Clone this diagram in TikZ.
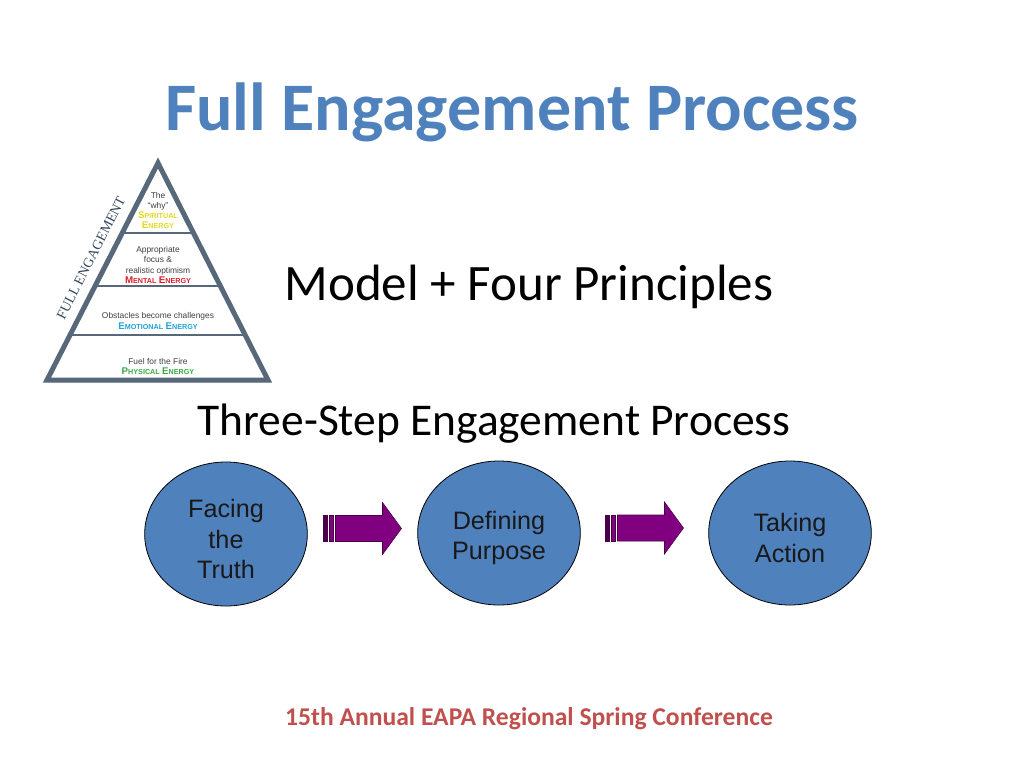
\documentclass[tikz,border=0pt]{standalone}
\usepackage{fontspec}
\setmainfont{Liberation Sans}
\newfontfamily\calibri{Carlito}
\newfontfamily\timesfont{Liberation Serif}
\usetikzlibrary{shapes.geometric, calc, shadows}

\definecolor{titleblue}{HTML}{4F81BD}
\definecolor{stepblue}{HTML}{4F81BD}
\definecolor{slate}{HTML}{56687A}
\definecolor{slatetext}{HTML}{34465C}
\definecolor{footred}{HTML}{C0504D}
\definecolor{arrowpurple}{HTML}{800080}
\definecolor{arrowedge}{HTML}{4A0048}
\definecolor{tiergray}{HTML}{404040}
\definecolor{spiritcol}{HTML}{E6D81E}
\definecolor{mentalcol}{HTML}{D9202A}
\definecolor{emotioncol}{HTML}{1FA3D8}
\definecolor{physcol}{HTML}{3AA845}

% fake small caps for the energy labels
\newcommand{\fsc}[2]{{\fontsize{7.3}{7.7}\selectfont #1}{\fontsize{5.4}{7.7}\selectfont #2}}

\tikzset{
  stepnode/.style={ellipse, draw=black, line width=0.6pt, fill=stepblue,
    minimum width=122pt, minimum height=108pt, inner sep=0pt},
  steptext/.style={align=center, inner sep=0pt, text=black!90,
    font=\fontsize{18.9}{22.9}\selectfont},
  tiertext/.style={align=center, inner sep=0pt, text=tiergray,
    font=\fontsize{6.3}{7.7}\selectfont},
  pics/steparrow/.style={code={
    \draw[fill=arrowedge, draw=arrowedge, line width=0.4pt] (-39,-13) rectangle (-35,13);
    \draw[fill=arrowpurple, draw=arrowedge, line width=0.4pt] (-33.5,-13) rectangle (-29,13);
    \draw[fill=arrowpurple, draw=arrowedge, line width=0.4pt]
      (-27,-13) -- (20,-13) -- (20,-26) -- (39,0) -- (20,26) -- (20,13) -- (-27,13) -- cycle;
  }}
}

\begin{document}
\begin{tikzpicture}[x=0.75pt, y=-0.75pt]

\useasboundingbox (0,0) rectangle (1024,768);

% title
\node[anchor=base, inner sep=0pt, text=titleblue, font=\calibri\bfseries\fontsize{51}{54}\selectfont]
  (title) at (512,130) {Full Engagement Process};

% pyramid
\coordinate (apex) at (158,163);
\coordinate (bl) at (47,380);
\coordinate (br) at (268,380);
\filldraw[fill=white, draw=slate, line width=3.75pt,
  drop shadow={shadow xshift=1pt, shadow yshift=-2pt, opacity=0.25}]
  (apex) -- (bl) -- (br) -- cycle;
\foreach \t in {0.3226, 0.567, 0.793}
  \draw[slate, line width=1.5pt] ($(apex)!\t!(bl)$) -- ($(apex)!\t!(br)$);

\node[tiertext] (spirit) at (158,210.5)
  {The\\``why''\\\textcolor{spiritcol}{\bfseries\fsc{S}{PIRITUAL}}\\\textcolor{spiritcol}{\bfseries\fsc{E}{NERGY}}};
\node[tiertext] (mental) at (158,265)
  {Appropriate\\focus \&\\realistic optimism\\\textcolor{mentalcol}{\bfseries\fsc{M}{ENTAL} \fsc{E}{NERGY}}};
\node[tiertext] (emotion) at (158,321)
  {Obstacles become challenges\\\textcolor{emotioncol}{\bfseries\fsc{E}{MOTIONAL} \fsc{E}{NERGY}}};
\node[tiertext] (physical) at (158,366.5)
  {Fuel for the Fire\\\textcolor{physcol}{\bfseries\fsc{P}{HYSICAL} \fsc{E}{NERGY}}};

\node[rotate=63, inner sep=0pt, text=slatetext, font=\timesfont\fontsize{10.5}{11}\selectfont]
  (fullEng) at (91,258) {FULL ENGAGEMENT};

% headings
\node[anchor=base, inner sep=0pt, font=\calibri\fontsize{38.3}{40}\selectfont]
  (model) at (529,300) {Model + Four Principles};
\node[anchor=base, inner sep=0pt, font=\calibri\fontsize{34.1}{36}\selectfont]
  (steps) at (494,435) {Three-Step Engagement Process};

% the three steps
\node[stepnode] (face) at (226,534) {};
\node[stepnode] (purp) at (499,533) {};
\node[stepnode] (act) at (790,533) {};
\node[steptext] (faceText) at ($(face)+(0,5)$) {Facing\\the\\Truth};
\node[steptext] (purpText) at ($(purp)+(0,5)$) {Defining\\Purpose};
\node[steptext] (actText) at ($(act)+(0,5)$) {Taking\\Action};

\pic at ($($(face.east)!0.5!(purp.west)$)+(0,-5)$) {steparrow};
\pic at ($($(purp.east)!0.5!(act.west)$)+(0,-5)$) {steparrow};

% footer
\node[anchor=base, inner sep=0pt, text=footred, font=\calibri\bfseries\fontsize{19.2}{21}\selectfont]
  (footer) at (529,725) {15th Annual EAPA Regional Spring Conference};

\end{tikzpicture}
\end{document}
